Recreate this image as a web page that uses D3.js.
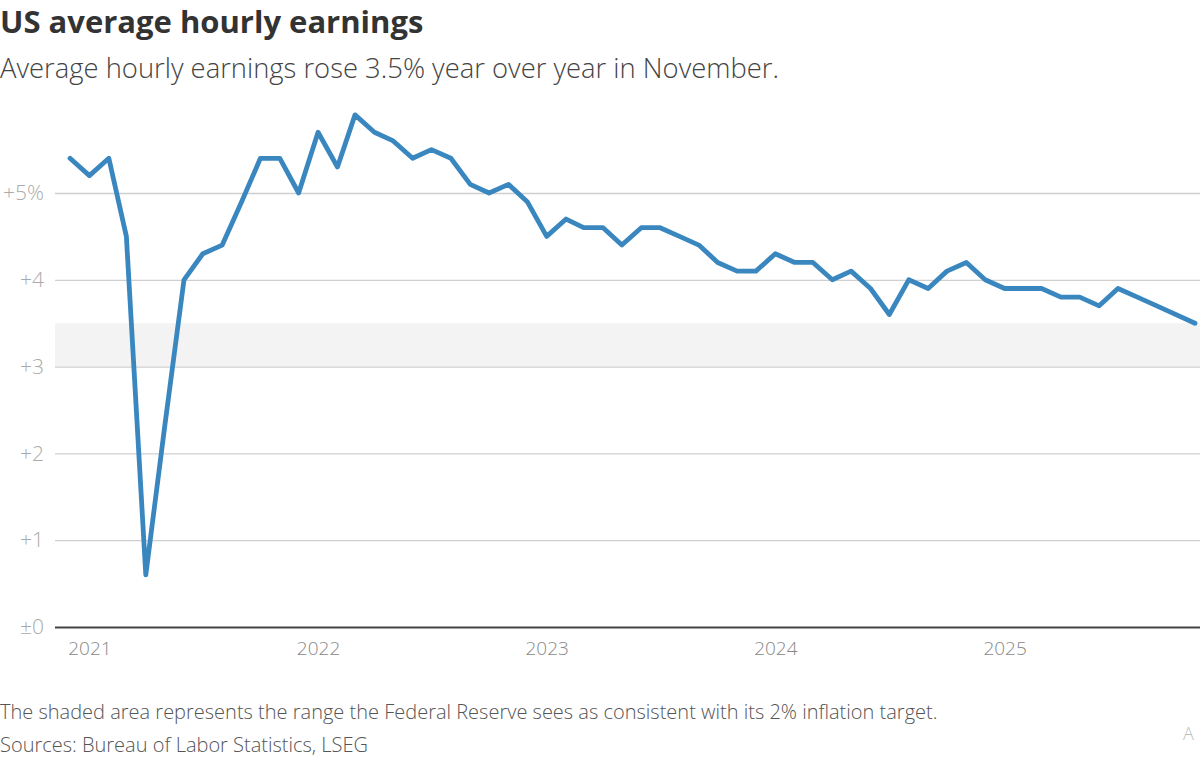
<!DOCTYPE html>
<html>
<head>
<meta charset="utf-8">
<script src="https://cdn.jsdelivr.net/npm/d3@7"></script>
<style>
  body { margin: 0; background: #fff; }
  svg { display: block; font-family: "Open Sans", Lato, sans-serif; }
</style>
</head>
<body>
<svg id="chart" width="1200" height="759"></svg>
<script>
// monthly year-over-year change in average hourly earnings, %
// (no October 2025 reading: the line joins September to November)
var months = [
  "2020-12",
  "2021-01","2021-02","2021-03","2021-04","2021-05","2021-06","2021-07","2021-08","2021-09","2021-10","2021-11","2021-12",
  "2022-01","2022-02","2022-03","2022-04","2022-05","2022-06","2022-07","2022-08","2022-09","2022-10","2022-11","2022-12",
  "2023-01","2023-02","2023-03","2023-04","2023-05","2023-06","2023-07","2023-08","2023-09","2023-10","2023-11","2023-12",
  "2024-01","2024-02","2024-03","2024-04","2024-05","2024-06","2024-07","2024-08","2024-09","2024-10","2024-11","2024-12",
  "2025-01","2025-02","2025-03","2025-04","2025-05","2025-06","2025-07","2025-08","2025-09","2025-11"
];
var earnings = [
  5.4,
  5.2, 5.4, 4.5, 0.6, 2.3, 4.0, 4.3, 4.4, 4.9, 5.4, 5.4, 5.0,
  5.7, 5.3, 5.9, 5.7, 5.6, 5.4, 5.5, 5.4, 5.1, 5.0, 5.1, 4.9,
  4.5, 4.7, 4.6, 4.6, 4.4, 4.6, 4.6, 4.5, 4.4, 4.2, 4.1, 4.1,
  4.3, 4.2, 4.2, 4.0, 4.1, 3.9, 3.6, 4.0, 3.9, 4.1, 4.2, 4.0,
  3.9, 3.9, 3.9, 3.8, 3.8, 3.7, 3.9, 3.8, 3.7, 3.5
];
var yTicks = [0, 1, 2, 3, 4, 5];
var yTickLabels = ["±0", "+1", "+2", "+3", "+4", "+5%"];
var xTicks = ["2021-01", "2022-01", "2023-01", "2024-01", "2025-01"];
var fedRange = [3, 3.5];

var parse = d3.timeParse("%Y-%m");
var data = months.map(function(m, i) { return { date: parse(m), value: earnings[i] }; });

var svg = d3.select("#chart");
var plotLeft = 55, plotRight = 1200;

var x = d3.scaleTime()
  .domain([parse("2020-12"), parse("2025-11")])
  .range([70, 1195]);
var y = d3.scaleLinear().domain([0, 5]).range([627, 193]);

// titles
svg.append("text")
  .attr("x", 0).attr("y", 33)
  .attr("fill", "#333")
  .attr("style", "font-size: 31px; font-weight: 700")
  .text("US average hourly earnings");
svg.append("text")
  .attr("x", 0).attr("y", 78)
  .attr("fill", "#444")
  .attr("style", "font-size: 27.4px; font-weight: 300")
  .text("Average hourly earnings rose 3.5% year over year in November.");

// shaded Fed range
svg.append("rect")
  .attr("x", plotLeft)
  .attr("y", y(fedRange[1]))
  .attr("width", plotRight - plotLeft)
  .attr("height", y(fedRange[0]) - y(fedRange[1]))
  .attr("fill", "#f3f3f3");

// y axis: gridlines + labels
var yAxis = d3.axisLeft(y)
  .tickValues(yTicks)
  .tickSize(-(plotRight - plotLeft))
  .tickPadding(11)
  .tickFormat(function(d, i) { return yTickLabels[i]; });
var gy = svg.append("g")
  .attr("transform", "translate(" + plotLeft + ",0)")
  .call(yAxis);
gy.select(".domain").remove();
gy.selectAll(".tick line")
  .attr("stroke", function(d) { return d === 0 ? "#444" : "#cfcfcf"; })
  .attr("stroke-width", function(d) { return d === 0 ? 2 : 1.3; });
gy.selectAll(".tick text")
  .attr("fill", "#aaa")
  .attr("style", "font-size: 21px; font-weight: 300; font-family: 'Open Sans', sans-serif");

// x axis labels
var xAxis = d3.axisBottom(x)
  .tickValues(xTicks.map(parse))
  .tickSize(0)
  .tickPadding(15)
  .tickFormat(d3.timeFormat("%Y"));
var gx = svg.append("g")
  .attr("transform", "translate(0," + y(0) + ")")
  .call(xAxis);
gx.select(".domain").remove();
gx.selectAll(".tick text")
  .attr("fill", "#888")
  .attr("style", "font-size: 19px; font-weight: 300; font-family: 'Open Sans', sans-serif");

// line
var line = d3.line()
  .x(function(d) { return x(d.date); })
  .y(function(d) { return y(d.value); });
svg.append("path")
  .datum(data)
  .attr("d", line)
  .attr("fill", "none")
  .attr("stroke", "#3a87c0")
  .attr("stroke-width", 4.8)
  .attr("stroke-linejoin", "round")
  .attr("stroke-linecap", "round");

// footnotes
svg.append("text")
  .attr("x", 0).attr("y", 719)
  .attr("fill", "#555")
  .attr("style", "font-size: 20px; font-weight: 300")
  .text("The shaded area represents the range the Federal Reserve sees as consistent with its 2% inflation target.");
svg.append("text")
  .attr("x", 0).attr("y", 752)
  .attr("fill", "#555")
  .attr("style", "font-size: 20px; font-weight: 300")
  .text("Sources: Bureau of Labor Statistics, LSEG");
svg.append("text")
  .attr("x", 1183).attr("y", 740)
  .attr("fill", "#bbb")
  .attr("style", "font-size: 18px; font-weight: 300")
  .text("A");
</script>
</body>
</html>
